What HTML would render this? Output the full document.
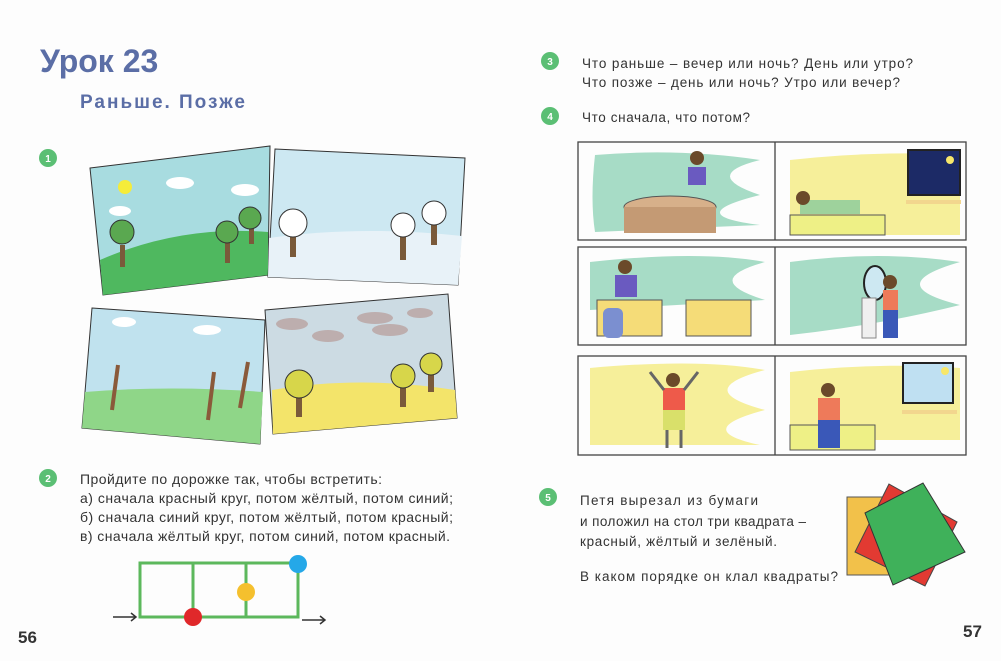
<!DOCTYPE html>
<html><head><meta charset="utf-8"><style>
html,body{margin:0;padding:0;background:#fff}
svg{display:block}
text{font-family:"Liberation Sans",sans-serif}
</style></head><body>
<svg width="1001" height="661" viewBox="0 0 1001 661" xmlns="http://www.w3.org/2000/svg">
<rect width="1001" height="661" fill="#fdfdfd"/>
<text x="40" y="72" font-size="32" font-weight="bold" fill="#5b6ea6">Урок 23</text>
<text x="80" y="108" font-size="19" font-weight="bold" fill="#5b6ea6" textLength="165">Раньше. Позже</text>

<g fill="#5bbf74"><circle cx="48" cy="158" r="9"/><circle cx="48" cy="478" r="9"/><circle cx="550" cy="61" r="9"/><circle cx="550" cy="116" r="9"/><circle cx="548" cy="497" r="9"/></g>
<g fill="#fff" font-size="10" font-weight="bold" text-anchor="middle"><text x="48" y="162">1</text><text x="48" y="482">2</text><text x="550" y="65">3</text><text x="550" y="120">4</text><text x="548" y="501">5</text></g>

<!-- task 1 pictures -->
<polygon points="90,168 270,146 268,275 103,295" fill="#a8dce0" stroke="#333" stroke-width="1"/>
<path d="M100,260 Q180,225 268,232 L268,275 L103,295 Z" fill="#4fb85f"/>
<circle cx="125" cy="187" r="7" fill="#f5ec3a"/>
<ellipse cx="180" cy="183" rx="14" ry="6" fill="#fff"/><ellipse cx="245" cy="190" rx="14" ry="6" fill="#fff"/><ellipse cx="120" cy="211" rx="11" ry="5" fill="#fff"/>
<rect x="120" y="245" width="5" height="22" fill="#7a5a3a"/><circle cx="122" cy="232" r="12" fill="#5aa850" stroke="#333"/>
<rect x="225" y="238" width="5" height="25" fill="#7a5a3a"/><circle cx="227" cy="232" r="11" fill="#5aa850" stroke="#333"/>
<rect x="249" y="226" width="5" height="18" fill="#7a5a3a"/><circle cx="250" cy="218" r="11" fill="#5aa850" stroke="#333"/>

<polygon points="275,149 465,158 458,285 268,277" fill="#cde8f2" stroke="#333" stroke-width="1"/>
<path d="M269,238 Q360,225 462,236 L458,285 L268,277 Z" fill="#e8f2f8"/>
<rect x="290" y="235" width="6" height="22" fill="#7a5a3a"/><circle cx="293" cy="223" r="14" fill="#fff" stroke="#333"/>
<rect x="400" y="235" width="6" height="25" fill="#7a5a3a"/><circle cx="403" cy="225" r="12" fill="#fff" stroke="#333"/>
<rect x="431" y="225" width="6" height="20" fill="#7a5a3a"/><circle cx="434" cy="213" r="12" fill="#fff" stroke="#333"/>

<polygon points="92,308 265,320 260,444 82,428" fill="#c0e2ee" stroke="#333" stroke-width="1"/>
<path d="M85,392 Q170,385 263,392 L260,444 L82,428 Z" fill="#8fd688"/>
<ellipse cx="124" cy="322" rx="12" ry="5" fill="#fff"/><ellipse cx="207" cy="330" rx="14" ry="5" fill="#fff"/>
<g stroke="#8a5a3a" stroke-width="4"><path d="M112,410 L118,365"/><path d="M208,420 L214,372"/><path d="M240,408 L248,362"/></g>

<polygon points="265,310 448,294 457,418 273,434" fill="#ccdbe3" stroke="#333" stroke-width="1"/>
<path d="M272,390 Q360,375 455,390 L457,418 L273,434 Z" fill="#f3e46a"/>
<g fill="#bdaeae"><ellipse cx="292" cy="324" rx="16" ry="6"/><ellipse cx="328" cy="336" rx="16" ry="6"/><ellipse cx="375" cy="318" rx="18" ry="6"/><ellipse cx="390" cy="330" rx="18" ry="6"/><ellipse cx="420" cy="313" rx="13" ry="5"/></g>
<rect x="296" y="395" width="6" height="22" fill="#7a5a3a"/><circle cx="299" cy="384" r="14" fill="#d7d64a" stroke="#333"/>
<rect x="400" y="385" width="6" height="22" fill="#7a5a3a"/><circle cx="403" cy="376" r="12" fill="#d7d64a" stroke="#333"/>
<rect x="428" y="372" width="6" height="20" fill="#7a5a3a"/><circle cx="431" cy="364" r="11" fill="#d7d64a" stroke="#333"/>

<!-- task 2 -->
<g font-size="14" fill="#333">
<text x="80" y="484" textLength="302">Пройдите по дорожке так, чтобы встретить:</text>
<text x="80" y="503" textLength="373">а) сначала красный круг, потом жёлтый, потом синий;</text>
<text x="80" y="522" textLength="373">б) сначала синий круг, потом жёлтый, потом красный;</text>
<text x="80" y="541" textLength="370">в) сначала жёлтый круг, потом синий, потом красный.</text>
</g>
<g stroke="#5cb85c" stroke-width="3" fill="none"><rect x="140" y="563" width="158" height="54"/><line x1="193" y1="563" x2="193" y2="617"/><line x1="246" y1="563" x2="246" y2="617"/></g>
<circle cx="193" cy="617" r="9" fill="#e0282a"/><circle cx="246" cy="592" r="9" fill="#f5c02e"/><circle cx="298" cy="564" r="9" fill="#25a8e8"/>
<g stroke="#333" stroke-width="1.5" fill="none"><path d="M113,617 H136 M131,613 L136,617 L131,621"/><path d="M302,620 H325 M320,616 L325,620 L320,624"/></g>
<text x="18" y="643" font-size="17" font-weight="bold" fill="#333">56</text>

<!-- task 3,4 -->
<g font-size="13.5" fill="#333">
<text x="582" y="68" textLength="331">Что раньше – вечер или ночь? День или утро?</text>
<text x="582" y="87" textLength="318">Что позже – день или ночь? Утро или вечер?</text>
<text x="582" y="122" textLength="168">Что сначала, что потом?</text>
</g>
<!-- panels -->
<path d="M595,155 Q680,148 760,160 Q700,175 760,195 Q680,215 760,225 L595,232 Q590,200 595,155Z" fill="#a7dcc6"/>
<path d="M790,160 Q880,150 960,155 L960,235 L790,235 Z" fill="#f6ef9a"/>
<rect x="908" y="150" width="52" height="45" fill="#1c2a66" stroke="#222" stroke-width="2"/><circle cx="950" cy="160" r="4" fill="#f7e76a"/>
<ellipse cx="670" cy="207" rx="46" ry="11" fill="#d7b08a" stroke="#555"/><rect x="624" y="207" width="92" height="26" fill="#c49a74"/>
<circle cx="697" cy="158" r="7" fill="#6b4a2a"/><rect x="688" y="167" width="18" height="18" fill="#6a5ac0"/>
<rect x="790" y="215" width="95" height="20" fill="#eef086" stroke="#555"/><rect x="800" y="200" width="60" height="14" fill="#9ed29c"/><circle cx="803" cy="198" r="7" fill="#6b4a2a"/>
<rect x="906" y="200" width="55" height="4" fill="#f2d68e"/>
<path d="M590,262 Q700,250 765,262 Q700,280 765,300 L590,310Z" fill="#a7dcc6"/>
<path d="M790,262 Q880,250 960,262 Q880,285 960,305 Q880,325 790,335Z" fill="#a7dcc6"/>
<rect x="597" y="300" width="65" height="36" fill="#f5dc78" stroke="#555"/><rect x="686" y="300" width="65" height="36" fill="#f5dc78" stroke="#555"/>
<rect x="603" y="308" width="20" height="30" rx="6" fill="#7b8fd0"/>
<circle cx="625" cy="267" r="7" fill="#6b4a2a"/><rect x="615" y="275" width="22" height="22" fill="#6a5ac0"/>
<ellipse cx="875" cy="283" rx="11" ry="17" fill="#cde8f2" stroke="#222" stroke-width="2"/><rect x="862" y="298" width="14" height="40" fill="#f0f0f0" stroke="#888"/>
<circle cx="890" cy="282" r="7" fill="#6b4a2a"/><rect x="883" y="290" width="15" height="20" fill="#ee7a5a"/><rect x="883" y="310" width="15" height="28" fill="#3a58b8"/>
<path d="M590,368 Q700,358 765,370 Q690,390 765,410 Q690,430 760,445 L590,445Z" fill="#f6ef9a"/>
<path d="M790,372 Q880,362 960,368 L960,440 L790,440Z" fill="#f6ef9a"/>
<rect x="903" y="363" width="50" height="40" fill="#bfe0f2" stroke="#222" stroke-width="2"/><circle cx="945" cy="371" r="4" fill="#f7e76a"/>
<rect x="902" y="410" width="55" height="4" fill="#f2d68e"/>
<rect x="790" y="425" width="85" height="25" fill="#eef086" stroke="#555"/>
<circle cx="828" cy="390" r="7" fill="#6b4a2a"/><rect x="818" y="398" width="22" height="22" fill="#ee7a5a"/><rect x="818" y="420" width="22" height="28" fill="#3a58b8"/>
<circle cx="673" cy="380" r="7" fill="#6b4a2a"/><rect x="663" y="388" width="22" height="22" fill="#ee5a4a"/><rect x="663" y="410" width="22" height="20" fill="#d9e06a"/>
<g stroke="#666" stroke-width="3"><line x1="664" y1="390" x2="650" y2="372"/><line x1="684" y1="390" x2="698" y2="372"/><line x1="667" y1="430" x2="667" y2="448"/><line x1="681" y1="430" x2="681" y2="448"/></g>
<g fill="none" stroke="#444" stroke-width="1.3">
<rect x="578" y="142" width="388" height="98"/><line x1="775" y1="142" x2="775" y2="240"/>
<rect x="578" y="247" width="388" height="98"/><line x1="775" y1="247" x2="775" y2="345"/>
<rect x="578" y="356" width="388" height="99"/><line x1="775" y1="356" x2="775" y2="455"/>
</g>

<!-- task 5 -->
<g font-size="13.5" fill="#333">
<text x="580" y="505" textLength="178">Петя вырезал из бумаги</text>
<text x="580" y="526" textLength="226">и положил на стол три квадрата –</text>
<text x="580" y="546" textLength="197">красный, жёлтый и зелёный.</text>
<text x="580" y="581" textLength="258">В каком порядке он клал квадраты?</text>
</g>
<rect x="847" y="497" width="44" height="78" fill="#f2c14a" stroke="#555"/>
<polygon points="889,484 957,522 925,586 855,552" fill="#e23a32" stroke="#444"/>
<polygon points="865,513 923,483 965,552 893,585" fill="#3fb15a" stroke="#333"/>
<text x="963" y="637" font-size="17" font-weight="bold" fill="#333">57</text>
</svg>
</body></html>
